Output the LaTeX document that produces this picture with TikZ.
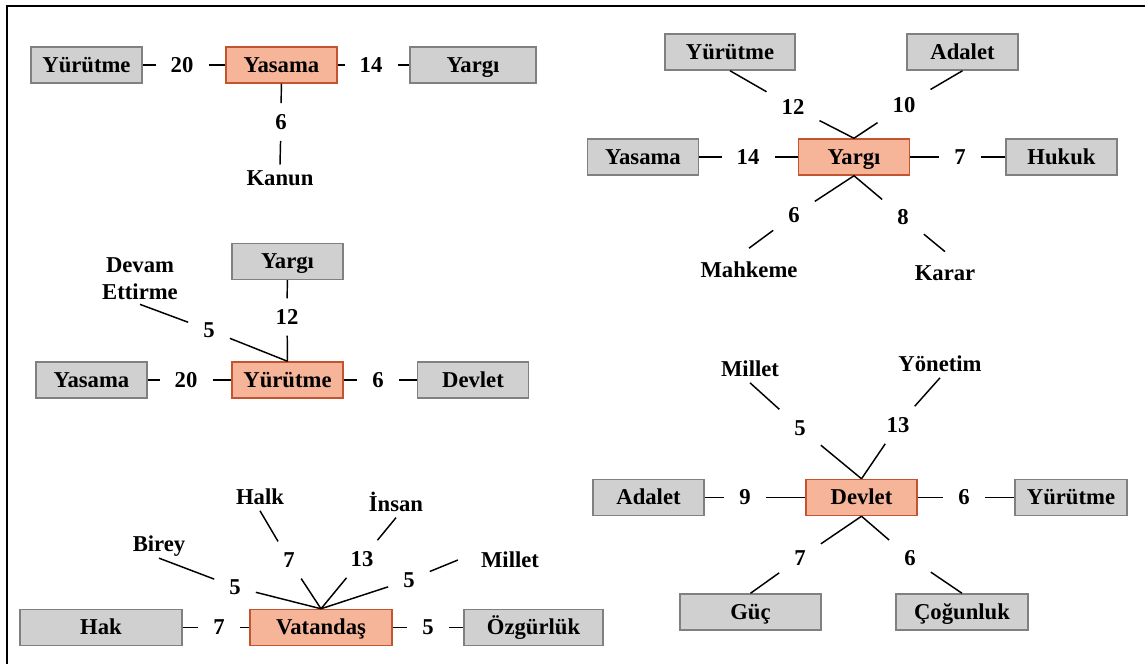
\documentclass[tikz,border=0pt]{standalone}
\usepackage{fontspec}
\setmainfont{Liberation Serif}

\definecolor{boxfill}{RGB}{208,208,208}
\definecolor{boxedge}{RGB}{128,128,128}
\definecolor{orgfill}{RGB}{246,180,152}
\definecolor{orgedge}{RGB}{196,84,48}

\tikzset{every picture/.style={line width=0.75pt}}
\tikzset{
	gbox/.style={draw=boxedge, line width=1.1pt, fill=boxfill, minimum width=83.25pt, minimum height=27pt, inner sep=0pt, text height=13pt, text depth=2pt},
	obox/.style={gbox, draw=orgedge, fill=orgfill},
	num/.style={inner xsep=11pt, inner ysep=8pt},
	word/.style={inner sep=4pt},
	link/.style={line width=1.1pt}
}

\begin{document}
\begin{tikzpicture}[x=0.75pt,y=0.75pt,yscale=-1,xscale=1, font=\fontsize{17}{20}\selectfont\bfseries]
		\useasboundingbox (0,0) rectangle (1145,664);
		%frame, only top and left
		\draw [line width=2.2pt] (7,664) -- (7,6) -- (1145,6) ;
		
		%Yasama
		\node [gbox] (aYur) at (86.5,65) {Yürütme};
		\node [num] (aN20) at (182,65) {20};
		\node [obox] (aYas) at (281.5,65) {Yasama};
		\node [num] (aN14) at (371,65) {14};
		\node [gbox, minimum width=94.5pt] (aYar) at (473,65) {Yargı};
		\node [num] (aN6) at (281,122) {6};
		\node [word] (aKan) at (280,178) {Kanun};
		\draw [link] (aYur) -- (aN20) -- (aYas) -- (aN14) -- (aYar) ;
		\draw [link] (aYas) -- (aN6) -- (aKan.north) ;
		
		%Yargi
		\node [gbox, minimum width=97.5pt] (bYur) at (730,52) {Yürütme};
		\node [gbox] (bAda) at (962.5,52) {Adalet};
		\node [gbox] (bYas) at (643,157) {Yasama};
		\node [obox] (bYar) at (854,157) {Yargı};
		\node [gbox] (bHuk) at (1061.5,157) {Hukuk};
		\node [num] (bN12) at (793,107) {12};
		\node [num] (bN10) at (904,105) {10};
		\node [num] (bN14) at (748,157) {14};
		\node [num] (bN7) at (960,157) {7};
		\node [num] (bN6) at (794,215) {6};
		\node [num] (bN8) at (903,217) {8};
		\node [word, inner ysep=10pt] (bMah) at (749,270) {Mahkeme};
		\node [word, inner ysep=10pt] (bKar) at (945,273) {Karar};
		\draw [link] (bYur.south) -- (bN12) -- (bYar.north) ;
		\draw [link] (bAda.south) -- (bN10) -- (bYar.north) ;
		\draw [link] (bYas) -- (bN14) -- (bYar) -- (bN7) -- (bHuk) ;
		\draw [link] (bYar.south) -- (bN6) -- (bMah.north) ;
		\draw [link] (bYar.south) -- (bN8) -- (bKar.north) ;
		
		%Yurutme
		\node [gbox] (cYar) at (287.5,261.5) {Yargı};
		\node [word, align=center, inner sep=3pt] (cDev) at (140,279) {Devam\\Ettirme};
		\node [num] (cN12) at (287,317) {12};
		\node [num] (cN5) at (209,330) {5};
		\node [gbox] (cYas) at (91.5,380) {Yasama};
		\node [num] (cN20) at (186,380) {20};
		\node [obox] (cYur) at (287.5,380) {Yürütme};
		\node [num] (cN6) at (378,380) {6};
		\node [gbox] (cDvl) at (473,380) {Devlet};
		\draw [link] (cYar) -- (cN12) -- (cYur.north) ;
		\draw [link] (cDev.south) -- (cN5) -- (cYur.north) ;
		\draw [link] (cYas) -- (cN20) -- (cYur) -- (cN6) -- (cDvl) ;
		
		%Vatandas
		\node [gbox, minimum width=121.5pt] (dHak) at (101,627.5) {Hak};
		\node [num] (dN7) at (219,627.5) {7};
		\node [obox, minimum width=106.5pt] (dVat) at (321,627.5) {Vatandaş};
		\node [num] (dN5) at (428,627.5) {5};
		\node [gbox, minimum width=104.25pt] (dOzg) at (533.5,627.5) {Özgürlük};
		\node [word, inner sep=1pt] (dBir) at (159,546) {Birey};
		\node [word] (dHal) at (260,497) {Halk};
		\node [word] (dIns) at (396,502) {İnsan};
		\node [word, inner xsep=17pt] (dMil) at (510,560) {Millet};
		\node [num] (dN5a) at (235,587) {5};
		\node [num] (dN7a) at (289,560) {7};
		\node [num] (dN13) at (362,559) {13};
		\node [num] (dN5b) at (409,580) {5};
		\draw [link] (dHak) -- (dN7) -- (dVat) -- (dN5) -- (dOzg) ;
		\draw [link] (dBir.south) -- (dN5a) -- (dVat.north) ;
		\draw [link] (dHal.south) -- (dN7a) -- (dVat.north) ;
		\draw [link] (dIns.south) -- (dN13) -- (dVat.north) ;
		\draw [link] (dMil.west) -- (dN5b) -- (dVat.north) ;
		
		%Devlet
		\node [gbox] (eAda) at (648.5,497.5) {Adalet};
		\node [num] (eN9) at (745,497.5) {9};
		\node [obox] (eDev) at (861.5,497.5) {Devlet};
		\node [num] (eN6) at (964,497.5) {6};
		\node [gbox, minimum width=84pt] (eYur) at (1071,497.5) {Yürütme};
		\node [word] (eMil) at (750,369) {Millet};
		\node [word] (eYon) at (940,364) {Yönetim};
		\node [num] (eN5) at (800,428) {5};
		\node [num] (eN13) at (898,425) {13};
		\node [num] (eN7) at (800,558) {7};
		\node [num] (eN6b) at (910,558) {6};
		\node [gbox, minimum width=105.75pt] (eGuc) at (750.5,612) {Güç};
		\node [gbox, minimum width=99pt] (eCog) at (962,612) {Çoğunluk};
		\draw [link] (eAda) -- (eN9) -- (eDev) -- (eN6) -- (eYur) ;
		\draw [link] (eMil.south) -- (eN5) -- (eDev.north) ;
		\draw [link] (eYon.south) -- (eN13) -- (eDev.north) ;
		\draw [link] (eDev.south) -- (eN7) -- (eGuc.north) ;
		\draw [link] (eDev.south) -- (eN6b) -- (eCog.north) ;
		
\end{tikzpicture}
\end{document}
